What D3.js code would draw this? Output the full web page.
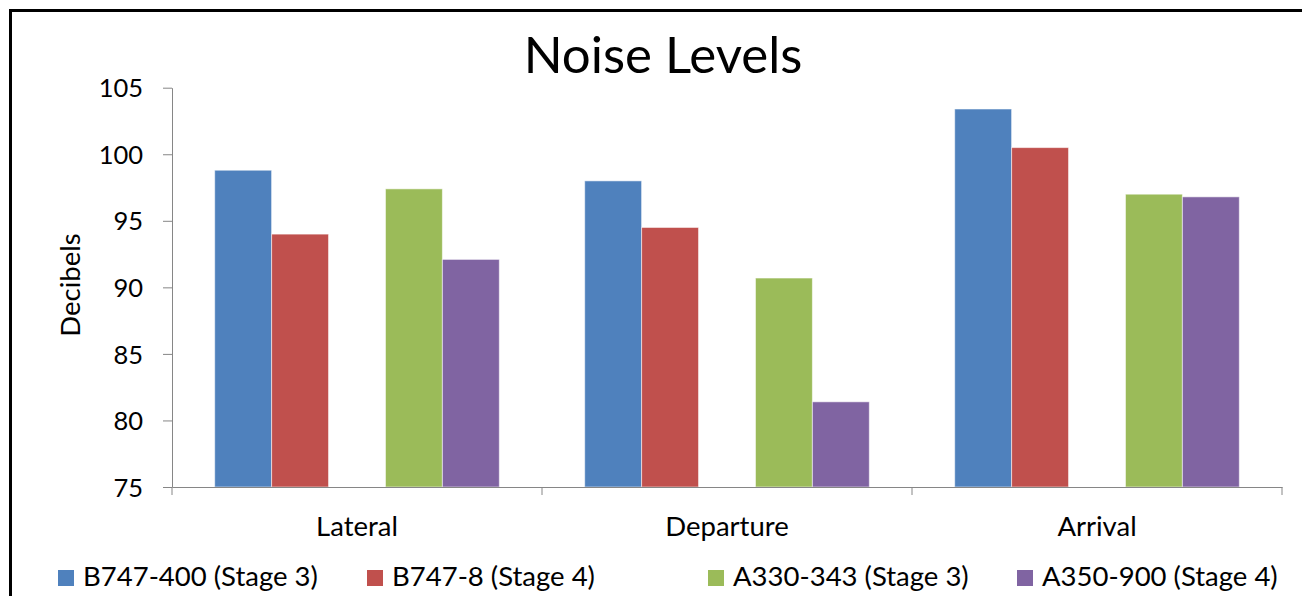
<!DOCTYPE html>
<html>
<head>
<meta charset="utf-8">
<script src="https://cdn.jsdelivr.net/npm/d3@7/dist/d3.min.js"></script>
<style>
  html, body { margin: 0; padding: 0; background: #fff; }
  svg { display: block; }
  text { font-family: Lato, "Open Sans", sans-serif; fill: #000; }
</style>
</head>
<body>
<svg id="chart" width="1302" height="596"></svg>
<script>
// Noise levels per measurement point, in decibels
const categories = ["Lateral", "Departure", "Arrival"];
const seriesNames = ["B747-400 (Stage 3)", "B747-8 (Stage 4)", "", "A330-343 (Stage 3)", "A350-900 (Stage 4)"];
const b747_400 = [98.8, 98.0, 103.4];
const b747_8   = [94.0, 94.5, 100.5];
const spacer   = [null, null, null];
const a330_343 = [97.4, 90.7, 97.0];
const a350_900 = [92.1, 81.4, 96.8];
const seriesValues = [b747_400, b747_8, spacer, a330_343, a350_900];
const seriesColors = ["#4F81BD", "#C0504D", "none", "#9BBB59", "#8064A2"];
const yTicks = [75, 80, 85, 90, 95, 100, 105];

const svg = d3.select("#chart");

// outer frame (runs off the right and bottom edges)
svg.append("rect")
  .attr("x", 10.5).attr("y", 10.5)
  .attr("width", 1400).attr("height", 700)
  .attr("fill", "none").attr("stroke", "#000").attr("stroke-width", 3);

const plot = { left: 172, right: 1282, top: 87.7, bottom: 487 };

const x0 = d3.scaleBand().domain(categories).range([plot.left, plot.right]).padding(0);
const slotCount = seriesNames.length;
const bw = x0.bandwidth() / (slotCount + 1.5);
const x1 = d3.scaleBand().domain(d3.range(slotCount))
  .range([bw * 0.75, x0.bandwidth() - bw * 0.75]).padding(0);
const y = d3.scaleLinear().domain([75, 105]).range([plot.bottom, plot.top]);

// bars
seriesValues.forEach((vals, si) => {
  if (seriesColors[si] === "none") return;
  svg.append("g").selectAll("rect")
    .data(vals.map((v, ci) => ({ v, c: categories[ci] })))
    .join("rect")
    .attr("x", d => x0(d.c) + x1(si))
    .attr("width", x1.bandwidth())
    .attr("y", d => y(d.v))
    .attr("height", d => y(75) - y(d.v))
    .attr("fill", seriesColors[si])
    .attr("stroke", "rgba(255,255,255,0.55)")
    .attr("stroke-width", 1);
});

const axisColor = "#868686";

// y axis
const yAxis = svg.append("g")
  .attr("transform", `translate(${plot.left},0)`)
  .call(d3.axisLeft(y).tickValues(yTicks).tickSize(9).tickPadding(20).tickSizeOuter(0));
yAxis.select(".domain").attr("stroke", axisColor);
yAxis.selectAll(".tick line").attr("stroke", axisColor);
yAxis.selectAll(".tick text")
  .attr("font-size", 25.5).attr("font-family", "Lato, sans-serif").attr("fill", "#000")
  .attr("dy", "0.36em");

// x axis: separators at category boundaries
const xAxis = svg.append("g")
  .attr("transform", `translate(0,${plot.bottom})`)
  .call(d3.axisBottom(x0).tickSize(0).tickPadding(29).tickSizeOuter(0));
xAxis.select(".domain").attr("stroke", axisColor);
xAxis.selectAll(".tick text")
  .attr("font-size", 27.5).attr("font-family", "Lato, sans-serif").attr("fill", "#000");
const bounds = categories.map(c => x0(c)).concat([x0(categories[categories.length - 1]) + x0.bandwidth()]);
xAxis.selectAll("line.sep").data(bounds).join("line")
  .attr("class", "sep")
  .attr("x1", d => d).attr("x2", d => d)
  .attr("y1", 0).attr("y2", 8)
  .attr("stroke", axisColor);

// title
svg.append("text")
  .attr("x", 663).attr("y", 73)
  .attr("text-anchor", "middle")
  .attr("font-size", 51)
  .text("Noise Levels");

// y axis title
svg.append("text")
  .attr("transform", "translate(80,285) rotate(-90)")
  .attr("text-anchor", "middle")
  .attr("font-size", 27.5)
  .text("Decibels");

// legend
const legendX = [58, 367, null, 708, 1017];
const legend = svg.append("g");
seriesNames.forEach((name, i) => {
  if (legendX[i] === null) return;
  const g = legend.append("g").attr("transform", `translate(${legendX[i]},570)`);
  g.append("rect").attr("width", 16).attr("height", 16).attr("fill", seriesColors[i]);
  g.append("text").attr("x", 25).attr("y", 16).attr("font-size", 27.5).text(name);
});
</script>
</body>
</html>
